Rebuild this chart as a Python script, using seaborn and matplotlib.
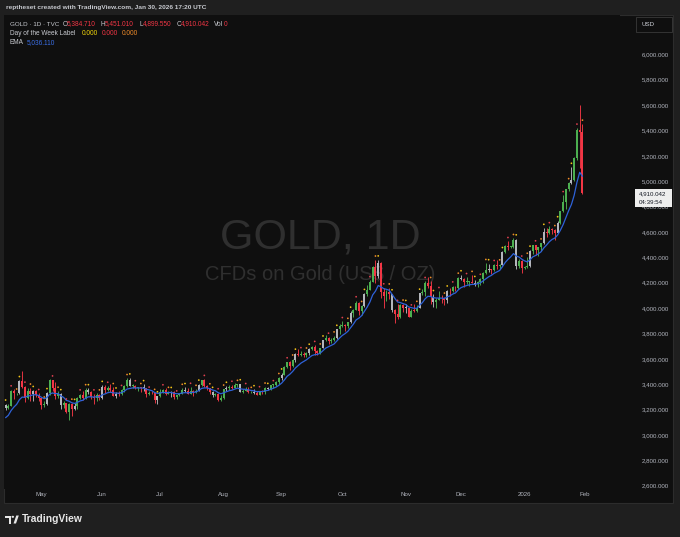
import numpy as np
import pandas as pd
import matplotlib
matplotlib.use("Agg")
import matplotlib.pyplot as plt
import seaborn as sns
from matplotlib.patches import Rectangle, Polygon, Circle

# ------------------------------
# Data: GOLD (TVC) daily candles, 14 Apr 2025 -> 30 Jan 2026 (weekdays)
# ------------------------------
# closes before the visible window, only used to warm up the EMA
warmup_close = [3123, 3113, 3133, 3114, 3037, 2982, 2982, 3083, 3175, 3237]

opens = [
    # Apr
    3237, 3211, 3230, 3343, 3327, 3327, 3425, 3381, 3288, 3349, 3319, 3344, 3317,
    # May
    3288, 3239, 3241, 3333, 3431, 3366, 3305, 3325, 3236, 3249, 3178, 3240, 3202, 3230, 3289, 3314, 3294, 3357, 3342, 3300, 3288, 3317,
    # Jun
    3289, 3381, 3352, 3373, 3352, 3310, 3325, 3322, 3354, 3386, 3432, 3384, 3388, 3369, 3369, 3368, 3368, 3323, 3332, 3327, 3273,
    # Jul
    3303, 3338, 3357, 3326, 3337, 3336, 3301, 3313, 3324, 3355, 3343, 3324, 3347, 3338, 3350, 3397, 3432, 3387, 3368, 3337, 3314, 3326, 3274,
    # Aug
    3289, 3363, 3373, 3380, 3369, 3396, 3398, 3342, 3348, 3356, 3335, 3336, 3332, 3315, 3348, 3339, 3371, 3365, 3393, 3397, 3416,
    # Sep
    3448, 3476, 3533, 3578, 3545, 3587, 3636, 3626, 3641, 3633, 3643, 3679, 3690, 3659, 3644, 3685, 3746, 3763, 3737, 3749, 3760, 3833,
    # Oct
    3858, 3866, 3857, 3887, 3961, 3985, 4040, 3975, 4018, 4110, 4143, 4209, 4327, 4251, 4356, 4125, 4095, 4126, 4112, 3981, 3952, 3930, 4024,
    # Nov
    4002, 4000, 3932, 3980, 3977, 4001, 4115, 4127, 4194, 4172, 4084, 4045, 4067, 4078, 4077, 4064, 4136, 4131, 4165, 4157,
    # Dec
    4239, 4231, 4205, 4206, 4208, 4198, 4189, 4208, 4228, 4279, 4300, 4305, 4302, 4339, 4332, 4339, 4444, 4491, 4480, 4485, 4533, 4331, 4372,
    # Jan
    4318, 4320, 4330, 4448, 4495, 4456, 4478, 4509, 4597, 4588, 4626, 4615, 4595, 4670, 4765, 4837, 4936, 4985, 5010, 5180, 5400, 5384.71,
]

highs = [
    3245, 3240, 3357, 3358, 3332, 3430, 3500, 3386, 3367, 3371, 3352, 3353, 3328,
    3290, 3269, 3335, 3437, 3435, 3415, 3346, 3327, 3265, 3253, 3252, 3252, 3250, 3295, 3325, 3345, 3366, 3366, 3350, 3325, 3330, 3325,
    3392, 3392, 3385, 3403, 3375, 3340, 3349, 3360, 3396, 3446, 3451, 3403, 3397, 3376, 3375, 3398, 3370, 3347, 3350, 3329, 3310,
    3358, 3365, 3366, 3345, 3344, 3346, 3317, 3330, 3369, 3375, 3366, 3377, 3353, 3361, 3402, 3434, 3439, 3394, 3373, 3345, 3334, 3334, 3315,
    3363, 3385, 3390, 3393, 3409, 3400, 3405, 3358, 3375, 3374, 3345, 3358, 3345, 3350, 3351, 3379, 3376, 3394, 3398, 3423, 3454,
    3490, 3540, 3578, 3582, 3600, 3646, 3674, 3658, 3653, 3655, 3685, 3703, 3707, 3670, 3687, 3750, 3791, 3772, 3762, 3782, 3834, 3872,
    3895, 3876, 3889, 3977, 3991, 4059, 4045, 4022, 4117, 4180, 4218, 4330, 4380, 4381, 4360, 4161, 4145, 4160, 4114, 3990, 4030, 4031, 4033,
    4030, 4001, 3995, 4028, 4023, 4119, 4149, 4211, 4245, 4211, 4108, 4082, 4132, 4100, 4088, 4144, 4156, 4176, 4170, 4245,
    4264, 4240, 4242, 4217, 4259, 4219, 4216, 4236, 4286, 4353, 4351, 4310, 4345, 4375, 4350, 4447, 4498, 4526, 4490, 4550, 4547, 4387, 4380,
    4330, 4402, 4458, 4500, 4500, 4480, 4515, 4630, 4634, 4643, 4627, 4620, 4690, 4766, 4888, 4940, 4990, 5111, 5190, 5420, 5600, 5451.01,
]

lows = [
    3193, 3205, 3229, 3283, 3315, 3325, 3367, 3260, 3287, 3266, 3268, 3300, 3268,
    3202, 3223, 3237, 3317, 3350, 3284, 3293, 3207, 3216, 3170, 3120, 3153, 3200, 3204, 3286, 3278, 3287, 3323, 3285, 3245, 3271, 3276,
    3287, 3333, 3343, 3339, 3307, 3293, 3306, 3314, 3339, 3380, 3382, 3366, 3362, 3347, 3340, 3347, 3295, 3312, 3320, 3255, 3247,
    3300, 3328, 3311, 3322, 3296, 3287, 3283, 3310, 3322, 3341, 3320, 3319, 3310, 3330, 3347, 3383, 3381, 3351, 3325, 3302, 3308, 3268, 3268,
    3280, 3349, 3356, 3358, 3366, 3380, 3342, 3331, 3347, 3331, 3330, 3323, 3311, 3312, 3324, 3321, 3351, 3352, 3373, 3386, 3400,
    3436, 3470, 3525, 3511, 3538, 3576, 3620, 3620, 3612, 3616, 3632, 3672, 3630, 3628, 3640, 3683, 3740, 3717, 3722, 3740, 3754, 3793,
    3850, 3820, 3839, 3885, 3930, 3982, 3945, 3947, 4009, 4096, 4140, 4203, 4200, 4236, 4083, 4004, 4056, 4070, 3970, 3886, 3916, 3922, 3967,
    3963, 3930, 3929, 3972, 3972, 3997, 4102, 4096, 4158, 4032, 4011, 4001, 4064, 4038, 4023, 4040, 4098, 4126, 4136, 4154,
    4224, 4165, 4191, 4174, 4196, 4175, 4169, 4183, 4197, 4266, 4283, 4271, 4290, 4306, 4310, 4338, 4437, 4455, 4474, 4476, 4305, 4319, 4275,
    4310, 4315, 4325, 4428, 4420, 4410, 4450, 4505, 4560, 4580, 4580, 4535, 4590, 4665, 4760, 4780, 4920, 4980, 5000, 5170, 5100, 4899.55,
]

closes = [
    3211, 3230, 3343, 3327, 3327, 3425, 3381, 3288, 3349, 3319, 3344, 3317, 3288,
    3239, 3241, 3333, 3431, 3366, 3305, 3325, 3236, 3249, 3178, 3240, 3202, 3230, 3289, 3314, 3294, 3357, 3342, 3300, 3288, 3317, 3289,
    3381, 3352, 3373, 3352, 3310, 3325, 3322, 3354, 3386, 3432, 3384, 3388, 3369, 3369, 3368, 3368, 3323, 3332, 3327, 3273, 3303,
    3338, 3357, 3326, 3337, 3336, 3301, 3313, 3324, 3355, 3343, 3324, 3347, 3338, 3350, 3397, 3432, 3387, 3368, 3337, 3314, 3326, 3274, 3289,
    3363, 3373, 3380, 3369, 3396, 3398, 3342, 3348, 3356, 3335, 3336, 3332, 3315, 3348, 3339, 3371, 3365, 3393, 3397, 3416, 3448,
    3476, 3533, 3578, 3545, 3587, 3636, 3626, 3641, 3633, 3643, 3679, 3690, 3659, 3644, 3685, 3746, 3763, 3737, 3749, 3760, 3833, 3858,
    3866, 3857, 3887, 3961, 3985, 4040, 3975, 4018, 4110, 4143, 4209, 4327, 4251, 4356, 4125, 4095, 4126, 4112, 3981, 3952, 3930, 4024, 4002,
    4000, 3932, 3980, 3977, 4001, 4115, 4127, 4194, 4172, 4084, 4045, 4067, 4078, 4077, 4064, 4136, 4131, 4165, 4157, 4239,
    4231, 4205, 4206, 4208, 4198, 4189, 4208, 4228, 4279, 4300, 4305, 4302, 4339, 4332, 4339, 4444, 4491, 4480, 4485, 4533, 4331, 4372, 4318,
    4320, 4330, 4448, 4495, 4456, 4478, 4509, 4597, 4588, 4626, 4615, 4595, 4670, 4765, 4837, 4936, 4985, 5010, 5180, 5400, 5385, 4910.042,
]

month_starts = ["2025-05-01", "2025-06-02", "2025-07-01", "2025-08-01", "2025-09-01",
                "2025-10-01", "2025-11-03", "2025-12-01", "2026-01-01", "2026-02-02"]
month_labels = ["May", "Jun", "Jul", "Aug", "Sep", "Oct", "Nov", "Dec", "2026", "Feb"]
price_ticks = list(range(2600, 6001, 200))

# ------------------------------
# Frame
# ------------------------------
dates = pd.bdate_range("2025-04-14", "2026-01-30")
df = pd.DataFrame({"date": dates, "open": opens, "high": highs, "low": lows, "close": closes})
df["i"] = np.arange(len(df))
ema = pd.Series(warmup_close + closes).ewm(span=9, adjust=False).mean()
df["ema"] = ema.iloc[len(warmup_close):].values

axis_days = pd.bdate_range("2025-04-14", "2026-02-13")
month_pos = [axis_days.get_loc(pd.Timestamp(d)) for d in month_starts]

UP, DOWN, FLAT = "#4caf50", "#f23645", "#b4b6bc"
wd = df["date"].dt.weekday
df["color"] = np.where(df["close"] >= df["open"], UP, DOWN)
df.loc[wd == 0, "color"] = FLAT

# ------------------------------
# Plot
# ------------------------------
BG_OUT, BG_CH = "#1f1f1f", "#0f0f0f"
sns.set_theme(style="dark", rc={"axes.facecolor": BG_CH, "figure.facecolor": BG_OUT})
plt.rcParams["font.family"] = ["Liberation Sans", "DejaVu Sans"]

W, H = 680, 537
fig = plt.figure(figsize=(W / 100, H / 100), dpi=100)
fx = lambda px: px / W
fy = lambda py: 1 - py / H

fig.add_artist(Rectangle((fx(4), fy(503)), fx(673) - fx(4), fy(15) - fy(503), transform=fig.transFigure,
                         facecolor=BG_CH, edgecolor="#2c2c2c", lw=0.8, zorder=-1))

ax = fig.add_axes([fx(4), fy(489), fx(620) - fx(4), fy(15) - fy(489)])
ax.set_facecolor(BG_CH)

# watermark
ax.text(fx(320), fy(237.5), "GOLD, 1D", transform=fig.transFigure, ha="center", va="center",
        fontsize=31, color="#2f2f2f", zorder=0.5)
ax.text(fx(320), fy(275), "CFDs on Gold (US$ / OZ)", transform=fig.transFigure, ha="center", va="center",
        fontsize=14.5, color="#2f2f2f", zorder=0.5)

# candles
ax.vlines(df["i"], df["low"], df["high"], colors=df["color"], lw=0.65, zorder=2)
body = (df["close"] - df["open"]).abs().clip(lower=6)
ax.bar(df["i"], body, bottom=df[["open", "close"]].min(axis=1), width=0.72,
       color=df["color"], linewidth=0, zorder=3)

# EMA 9
sns.lineplot(data=df, x="i", y="ema", color="#2e62d9", lw=0.9, ax=ax, zorder=4)

# day-of-week label markers
dots = df[wd.isin([0, 2, 4])].copy()
dots["y"] = dots["high"] + 30
dot_cols = {0: "#f5c518", 2: "#e0404f", 4: "#f08c2a"}
sns.scatterplot(data=dots, x="i", y="y", hue=dots["date"].dt.weekday, palette=dot_cols,
                s=1.6, linewidth=0, legend=False, ax=ax, zorder=5)

ax.set_xlim(-0.58, 222.6)
ax.set_ylim(2573.7, 6309.8)
ax.set_xlabel("")
ax.set_ylabel("")
ax.grid(False)
for s in ax.spines.values():
    s.set_visible(False)

ax.yaxis.tick_right()
ax.set_yticks(price_ticks)
ax.set_yticklabels([f"{v:,.3f}" for v in price_ticks])
for lab in ax.get_yticklabels():
    lab.set_horizontalalignment("right")
ax.tick_params(axis="y", length=0, pad=35.3, labelsize=4.4, labelcolor="#b2b5be")
ax.set_xticks(month_pos)
ax.set_xticklabels(month_labels)
ax.tick_params(axis="x", length=0, pad=2.2, labelsize=4.4, labelcolor="#b2b5be")

# price scale extras
fig.add_artist(Rectangle((fx(636), fy(32)), fx(672) - fx(636), fy(17) - fy(32), transform=fig.transFigure,
                         facecolor="none", edgecolor="#3a3a3a", lw=0.6))
fig.text(fx(641), fy(24.5), "USD", va="center", fontsize=4.4, color="#d1d4dc")
fig.add_artist(Rectangle((fx(635), fy(207)), fx(672) - fx(635), fy(189) - fy(207), transform=fig.transFigure,
                         facecolor="#eeeeee", edgecolor="none"))
fig.text(fx(639), fy(193.5), "4,910.042", va="center", fontsize=4.4, color="#131722")
fig.text(fx(639), fy(203), "04:39:54", va="center", fontsize=4.4, color="#131722")

# header and legend
TXT = "#c8cad0"
fig.text(fx(6), fy(7.5), "reptheset created with TradingView.com, Jan 30, 2026 17:20 UTC",
         va="center", fontsize=4.65, color=TXT, weight="bold")
fig.text(fx(10), fy(24), "GOLD · 1D · TVC", va="center", fontsize=4.5, color=TXT)
row1 = [(62.5, "O", TXT), (66.5, "5,384.710", DOWN),
        (100.5, "H", TXT), (104.5, "5,451.010", DOWN), (139, "L", TXT), (142.5, "4,899.550", DOWN),
        (176.5, "C", TXT), (180.5, "4,910.042", DOWN), (213.5, "Vol", TXT), (223.5, "0", DOWN)]
for x, t, c in row1:
    fig.text(fx(x), fy(24), t, va="center", fontsize=4.7, color=c)
row2 = [(10, "Day of the Week Label", TXT), (82, "0.000", "#f5d90a"), (102, "0.000", DOWN), (122, "0.000", "#f08c2a")]
for x, t, c in row2:
    fig.text(fx(x), fy(33.5), t, va="center", fontsize=4.7, color=c)
fig.text(fx(10), fy(43), "EMA", va="center", fontsize=4.7, color=TXT)
fig.text(fx(27), fy(43), "5,036.110", va="center", fontsize=4.7, color="#3b6fe6")

# footer logo
logo = "#e6e6e6"
fig.add_artist(Polygon([(fx(5), fy(515.5)), (fx(11), fy(515.5)), (fx(11), fy(523.5)), (fx(8.6), fy(523.5)),
                        (fx(8.6), fy(518)), (fx(5), fy(518))], closed=True, transform=fig.transFigure,
                       facecolor=logo, edgecolor="none"))
fig.add_artist(Circle((fx(12.8), fy(516.8)), 1.3 / W, transform=fig.transFigure, facecolor=logo, edgecolor="none"))
fig.add_artist(Polygon([(fx(13.5), fy(523.5)), (fx(16.3), fy(515.5)), (fx(18.8), fy(515.5)), (fx(16), fy(523.5))],
                       closed=True, transform=fig.transFigure, facecolor=logo, edgecolor="none"))
fig.text(fx(21.5), fy(519.5), "TradingView", va="center", fontsize=7.4, color=logo, weight="bold")

fig.savefig("out.png", dpi=100, facecolor=BG_OUT)
